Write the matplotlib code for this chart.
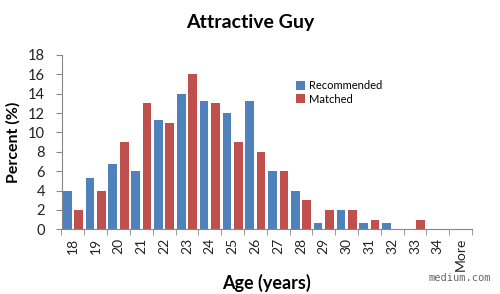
import matplotlib
matplotlib.use("Agg")
import matplotlib.pyplot as plt
import numpy as np

categories = ["18", "19", "20", "21", "22", "23", "24", "25", "26", "27",
              "28", "29", "30", "31", "32", "33", "34", "More"]
recommended = [4.0, 5.3, 6.7, 6.0, 11.3, 14.0, 13.3, 12.0, 13.3, 6.0,
               4.0, 0.7, 2.0, 0.7, 0.7, 0.0, 0.0, 0.0]
matched = [2.0, 4.0, 9.0, 13.0, 11.0, 16.0, 13.0, 9.0, 8.0, 6.0,
           3.0, 2.0, 2.0, 1.0, 0.0, 1.0, 0.0, 0.0]
y_ticks = [0, 2, 4, 6, 8, 10, 12, 14, 16, 18]

plt.rcParams['font.family'] = ['Lato', 'DejaVu Sans']

fig = plt.figure(figsize=(5.0, 2.94), dpi=100)
ax = fig.add_axes([0.123, 0.22, 0.821, 0.593])

blue = "#4F81BD"
red = "#C0504D"
x = np.arange(len(categories))
w = 0.38
ax.bar(x - 0.25, recommended, width=w, color=blue, label="Recommended")
ax.bar(x + 0.25, matched, width=w, color=red, label="Matched")

ax.set_xlim(-0.5, len(categories) - 0.5)
ax.set_ylim(0, 18)
ax.set_yticks(y_ticks)
ax.set_yticklabels([str(t) for t in y_ticks], fontsize=10.5, color="#222222")
ax.set_xticks(x)
ax.set_xticklabels(categories, rotation=90, fontsize=10, color="#222222")
ax.tick_params(axis='x', length=0, pad=6)
ax.set_xticks(np.arange(len(categories) + 1) - 0.5, minor=True)
ax.tick_params(axis='x', which='minor', length=4, color="#888888", direction='out')
ax.tick_params(axis='y', length=4, color="#888888", direction='out', pad=8)

for s in ['top', 'right']:
    ax.spines[s].set_visible(False)
for s in ['left', 'bottom']:
    ax.spines[s].set_color("#888888")
    ax.spines[s].set_linewidth(0.8)

ax.set_ylabel("Percent (%)", fontsize=11.5, fontweight='bold', labelpad=5)
ax.set_xlabel("Age (years)", fontsize=13, fontweight='bold', labelpad=2)
fig.text(0.5, 0.925, "Attractive Guy", ha='center', va='center',
         fontsize=14, fontweight='bold')

leg = ax.legend(loc='upper left', bbox_to_anchor=(0.56, 0.88), frameon=False,
                fontsize=8, handlelength=0.8, handleheight=0.8,
                handletextpad=0.4, labelspacing=0.2, borderaxespad=0)

fig.text(0.982, 0.055, "medium.com", ha='right', va='center', fontsize=7.5,
         family='DejaVu Sans Mono', color="#666666")

fig.savefig("out.png", dpi=100, facecolor='white')
